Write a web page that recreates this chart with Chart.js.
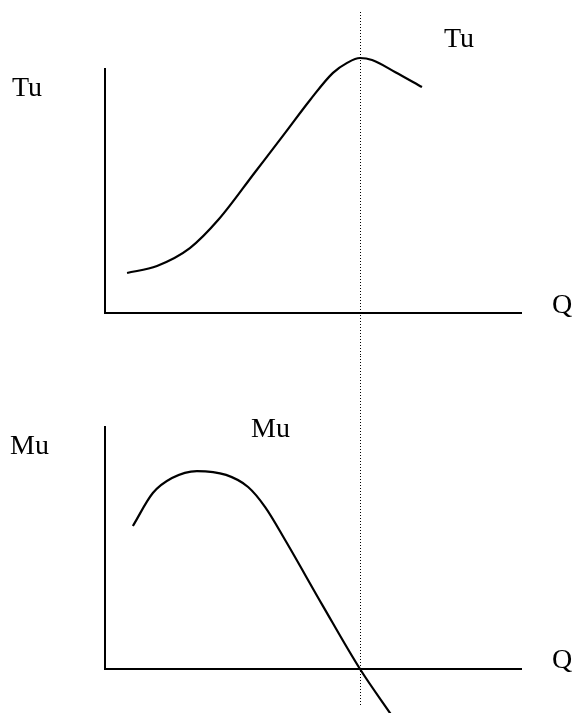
<!DOCTYPE html>
<html>
<head>
<meta charset="utf-8">
<script src="https://cdn.jsdelivr.net/npm/chart.js@4/dist/chart.umd.min.js"></script>
<style>
    body { margin: 0; background: #fff; }
    #page { position: relative; width: 573px; height: 713px; overflow: hidden; }
    canvas { position: absolute; left: 0; }
    .lbl { position: absolute; font-family: "Liberation Serif", "DejaVu Serif", serif; font-size: 28px; line-height: 28px; color: #000; white-space: nowrap; }
</style>
</head>
<body>
<div id="page">
    <canvas id="tuChart" width="573" height="356" style="top:0"></canvas>
    <canvas id="muChart" width="573" height="357" style="top:356px"></canvas>
    <div class="lbl" style="left:12px; top:73px">Tu</div>
    <div class="lbl" style="left:444px; top:24px">Tu</div>
    <div class="lbl" style="left:552px; top:290px">Q</div>
    <div class="lbl" style="left:10px; top:431px">Mu</div>
    <div class="lbl" style="left:251px; top:414px">Mu</div>
    <div class="lbl" style="left:552px; top:645px">Q</div>
</div>
<script>
// quantity where total utility peaks and marginal utility hits zero
const qStar = 6.13;

const tuQ = [0.53, 1.25, 2.04, 2.74, 3.61, 4.33, 4.93, 5.48, 5.82, 6.13, 6.42, 6.97, 7.62];
const tuValues = [1.64, 1.93, 2.66, 3.85, 5.78, 7.38, 8.73, 9.84, 10.25, 10.45, 10.37, 9.88, 9.26];

const muQ = [0.67, 1.15, 1.61, 2.21, 2.91, 3.44, 3.85, 4.33, 5.24, 6.13, 6.90];
const muValues = [5.91, 7.27, 7.89, 8.18, 8.02, 7.52, 6.69, 5.33, 2.60, 0, -1.94];

const toPoints = (xs, ys) => {
    let data = [];
    for (let i = 0; i < xs.length; i++) {
        data.push({ x: xs[i], y: ys[i] });
    }
    return data;
};

// dotted vertical line at qStar, drawn over the whole canvas height
const dottedLine = (fromY, toY) => ({
    id: 'dottedLine',
    afterDatasetsDraw(chart) {
        const ctx = chart.ctx;
        const x = Math.floor(chart.scales.x.getPixelForValue(qStar)) + 0.5;
        ctx.save();
        ctx.strokeStyle = '#000';
        ctx.lineWidth = 1;
        ctx.setLineDash([1, 2]);
        ctx.beginPath();
        ctx.moveTo(x, fromY);
        ctx.lineTo(x, toY);
        ctx.stroke();
        ctx.restore();
    }
});

const axis = (min, max) => ({
    type: 'linear',
    min: min,
    max: max,
    ticks: { display: false },
    grid: { display: false, drawTicks: false },
    border: { display: true, color: '#000', width: 2 }
});

const drawCurve = (canvasID, xs, ys, padding, fromY, toY) => {
    new Chart(
        document.getElementById(canvasID),
        {
            type: 'line',
            data: {
                datasets: [
                    {
                        data: toPoints(xs, ys),
                        borderColor: '#000',
                        borderWidth: 2.2,
                        pointRadius: 0,
                        cubicInterpolationMode: 'monotone',
                        clip: false,
                        fill: false
                    }
                ]
            },
            options: {
                responsive: false,
                animation: false,
                layout: { padding: padding },
                plugins: { legend: { display: false }, tooltip: { enabled: false } },
                scales: {
                    x: axis(0, 10),
                    y: axis(0, 10)
                }
            },
            plugins: [dottedLine(fromY, toY)]
        }
    );
};

drawCurve('tuChart', tuQ, tuValues, { left: 105, right: 52, top: 69, bottom: 43 }, 12, 356);
drawCurve('muChart', muQ, muValues, { left: 105, right: 52, top: 71, bottom: 44 }, 0, 349);
</script>
</body>
</html>
